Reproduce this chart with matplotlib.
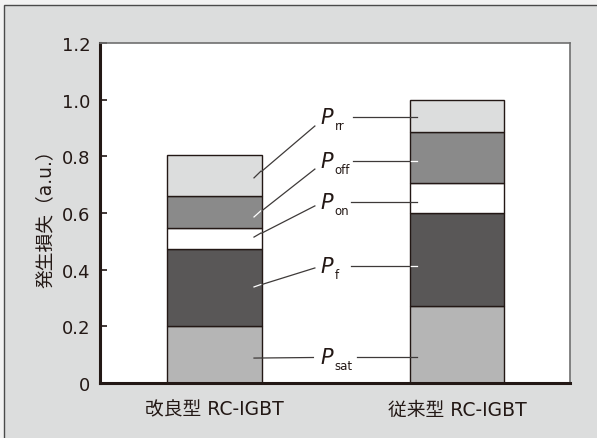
import matplotlib.pyplot as plt
from matplotlib.patches import Rectangle

plt.rcParams['font.family'] = ['DejaVu Sans', 'Noto Sans CJK JP']

categories = ["改良型 RC-IGBT", "従来型 RC-IGBT"]
components = ["sat", "f", "on", "off", "rr"]
p_sat = [0.20, 0.273]
p_f = [0.273, 0.327]
p_on = [0.075, 0.106]
p_off = [0.112, 0.180]
p_rr = [0.145, 0.114]
colors = ["#b5b5b5", "#595757", "#ffffff", "#8a8a8a", "#dcdddd"]
yticks = [0, 0.2, 0.4, 0.6, 0.8, 1.0, 1.2]
ytick_labels = ["0", "0.2", "0.4", "0.6", "0.8", "1.0", "1.2"]

series = [p_sat, p_f, p_on, p_off, p_rr]

# leader-line geometry (data units)
label_y = {"sat": 0.092, "f": 0.413, "on": 0.639, "off": 0.784, "rr": 0.939}
right_start = {"sat": 0.588, "f": 0.563, "on": 0.563, "off": 0.570, "rr": 0.571}
left_start = {"sat": (0.408, 0.090), "f": (0.414, 0.406), "on": (0.414, 0.625),
              "off": (0.414, 0.755), "rr": (0.414, 0.907)}
left_end = {"sat": (0.163, 0.088), "f": (0.163, 0.339), "on": (0.163, 0.515),
            "off": (0.163, 0.586), "rr": (0.163, 0.724)}
dark = {"f", "off"}

fig = plt.figure(figsize=(5.97, 4.39), dpi=100, facecolor="#f2f2f2")
panel = Rectangle((4 / 597, -0.05), 1.1, 1 - 6 / 439 + 0.05,
                  transform=fig.transFigure, facecolor="#dcdddd",
                  edgecolor="#4a4a4a", lw=1.0, zorder=-5)
fig.add_artist(panel)

ax = fig.add_axes([100 / 597, 55 / 439, 470 / 597, 340 / 439])
ax.set_facecolor("white")

x = [0, 1]
width = 0.39
bottoms = [0.0, 0.0]
for vals, col in zip(series, colors):
    ax.bar(x, vals, width, bottom=bottoms, color=col,
           edgecolor="#231815", linewidth=1.0, zorder=2)
    bottoms = [b + v for b, v in zip(bottoms, vals)]

line_col = "#3e3a39"
label_x = 0.435
bar1_right = x[0] + width / 2
bar2_left = x[1] - width / 2
for name in components:
    ly = label_y[name]
    tip = "white" if name in dark else line_col
    ax.text(label_x, ly, "P", fontsize=15, fontstyle="italic",
            ha="left", va="center", color="#231815", zorder=4)
    ax.annotate(name, xy=(label_x, ly), xytext=(10.5, -6),
                textcoords="offset points", fontsize=8.5,
                ha="left", va="center", color="#231815", zorder=4)
    # line to the right bar
    ax.plot([right_start[name], bar2_left], [ly, ly],
            color=line_col, lw=0.9, zorder=3)
    ax.plot([bar2_left + 0.004, 0.835], [ly, ly], color=tip, lw=0.9, zorder=3)
    # line to the left bar
    (x0, y0), (x1, y1) = left_start[name], left_end[name]
    t = (bar1_right - x1) / (x0 - x1)
    yb = y1 + t * (y0 - y1)
    ax.plot([x0, bar1_right], [y0, yb], color=line_col, lw=0.9, zorder=3)
    ax.plot([bar1_right - 0.004, x1], [yb, y1], color=tip, lw=0.9, zorder=3)

ax.set_xlim(-0.472, 1.466)
ax.set_ylim(0, 1.2)
ax.set_yticks(yticks)
ax.set_yticklabels(ytick_labels)
ax.set_xticks(x)
ax.set_xticklabels(categories)
ax.tick_params(axis="y", direction="in", length=5, width=1.2,
               labelsize=13, pad=7, colors="#231815")
ax.tick_params(axis="x", length=0, labelsize=13.5, pad=12, colors="#231815")
ax.set_ylabel("発生損失（a.u.）", fontsize=13.5, color="#231815", labelpad=5)

for side in ["left", "bottom"]:
    ax.spines[side].set_linewidth(2.2)
    ax.spines[side].set_color("#231815")
for side in ["top", "right"]:
    ax.spines[side].set_linewidth(1.2)
    ax.spines[side].set_color("#6f6f6f")

fig.savefig("out.png", dpi=100, facecolor=fig.get_facecolor())
